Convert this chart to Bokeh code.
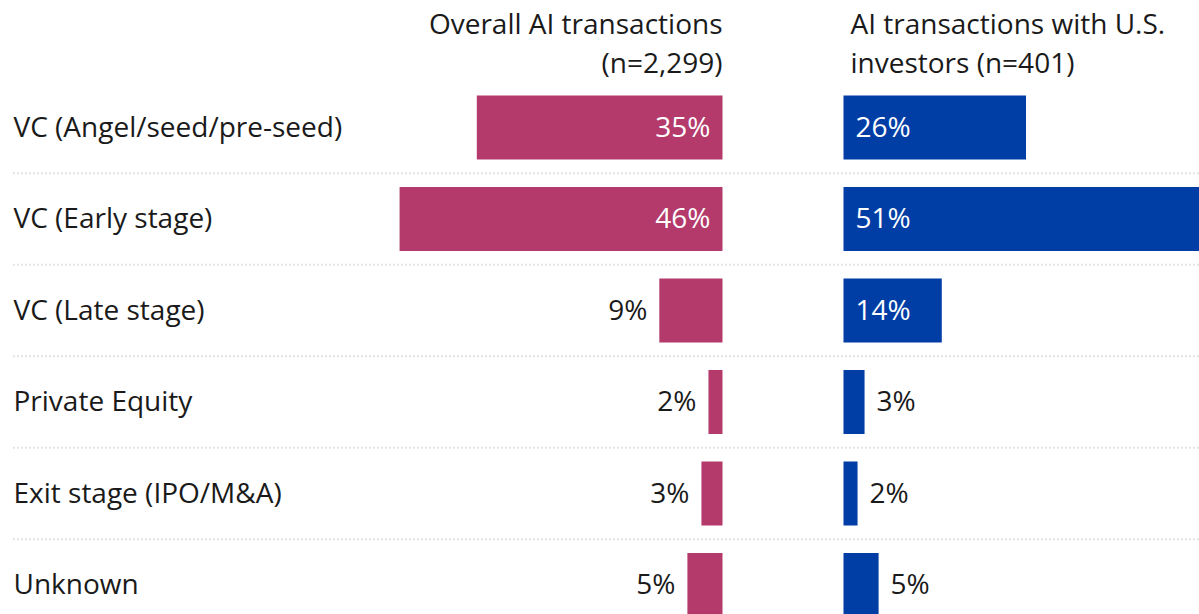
from bokeh.plotting import figure
from bokeh.models import ColumnDataSource, Range1d
from bokeh.core.properties import value
from bokeh.embed import file_html
from bokeh.resources import INLINE

categories = ["VC (Angel/seed/pre-seed)", "VC (Early stage)", "VC (Late stage)",
              "Private Equity", "Exit stage (IPO/M&A)", "Unknown"]
overall = [35, 46, 9, 2, 3, 5]
us_investors = [26, 51, 14, 3, 2, 5]
header_left = ["Overall AI transactions", "(n=2,299)"]
header_right = ["AI transactions with U.S.", "investors (n=401)"]

W, H = 1199, 614
PX = 7.02                      # pixels per percentage point
ZERO_L = 722                   # px of left panel zero
ZERO_R = 843                   # px of right panel zero
ROW = 91.5                     # px per row
TOP = 127                      # px of first row centre
FONT = "Open Sans"
FS = "28px"
PINK = "#B33A6B"
BLUE = "#003DA5"
YO = -2

off_r = (ZERO_R - ZERO_L) / PX
n = len(categories)
ys = [-i for i in range(n)]

p = figure(width=W, height=H, output_backend="svg", toolbar_location=None,
           x_range=Range1d(-ZERO_L / PX, (W - ZERO_L) / PX),
           y_range=Range1d(-(H - TOP) / ROW, TOP / ROW),
           min_border=0)
p.axis.visible = False
p.grid.visible = False
p.outline_line_color = None
p.background_fill_color = "white"
p.border_fill_color = "white"

# separators
x0 = -(ZERO_L - 13) / PX
x1 = (W - ZERO_L) / PX
for i in range(n - 1):
    p.line([x0, x1], [-i - 0.5, -i - 0.5], line_color="#c8c8c8",
           line_width=2, line_dash="1 3")

bh = 64 / ROW
src_l = ColumnDataSource(dict(y=ys, left=[-v for v in overall], right=[0] * n))
src_r = ColumnDataSource(dict(y=ys, left=[off_r] * n, right=[off_r + v for v in us_investors]))
p.hbar(y="y", left="left", right="right", height=bh, source=src_l,
       fill_color=PINK, line_color=None)
p.hbar(y="y", left="left", right="right", height=bh, source=src_r,
       fill_color=BLUE, line_color=None)

# value labels
def labels(vals, side):
    xs, offs, aligns, cols, txt = [], [], [], [], []
    for v in vals:
        inside = v >= 10
        txt.append(f"{v}%")
        if side == "L":
            xs.append(-v if not inside else 0)
            offs.append(-12)
            aligns.append("right")
        else:
            xs.append(off_r + v if not inside else off_r)
            offs.append(12)
            aligns.append("left")
        cols.append("white" if inside else "#1a1a1a")
    return ColumnDataSource(dict(x=xs, y=ys, xo=offs, a=aligns, c=cols, t=txt))

for side, vals in (("L", overall), ("R", us_investors)):
    s = labels(vals, side)
    p.text(x="x", y="y", text="t", x_offset="xo", y_offset=YO, text_align="a",
           text_color="c", text_baseline="middle", source=s,
           text_font=value(FONT), text_font_size=FS)

# category labels
p.text(x=[-(ZERO_L - 13) / PX] * n, y=ys, text=categories, y_offset=YO,
       text_baseline="middle", text_align="left", text_color="#1a1a1a",
       text_font=value(FONT), text_font_size=FS)

# headers
hy = [(TOP - 24) / ROW, (TOP - 63) / ROW]
p.text(x=[0, 0], y=hy, text=header_left, text_align="right", y_offset=YO,
       text_baseline="middle", text_color="#1a1a1a",
       text_font=value(FONT), text_font_size=FS)
p.text(x=[off_r, off_r], y=hy, text=header_right, text_align="left",
       x_offset=7, y_offset=YO, text_baseline="middle", text_color="#1a1a1a",
       text_font=value(FONT), text_font_size=FS)

open("out.html", "w").write(file_html(p, INLINE))
